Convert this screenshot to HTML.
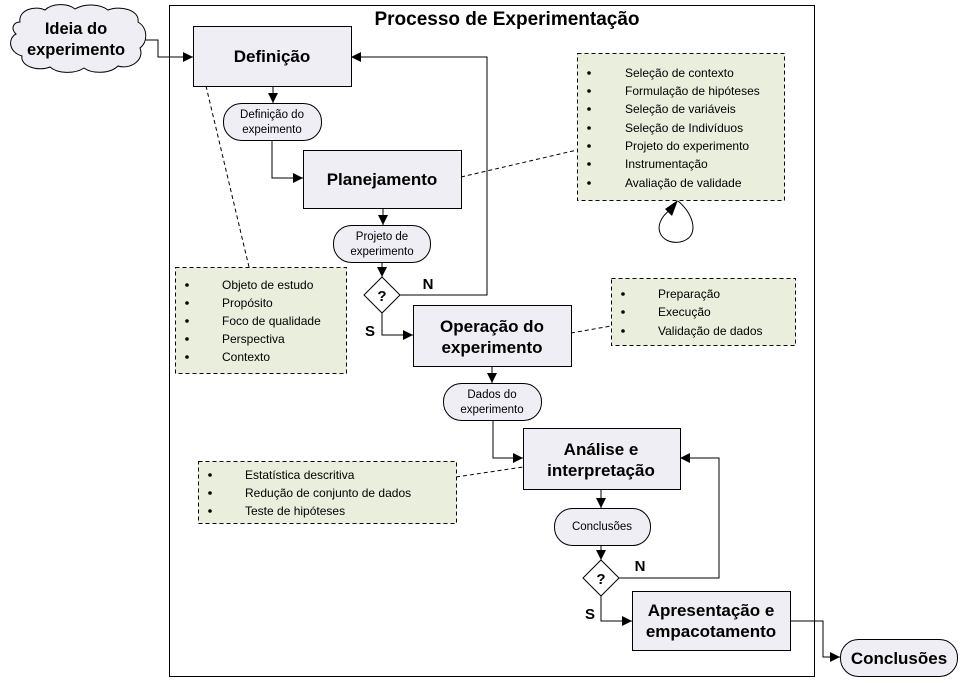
<!DOCTYPE html>
<html><head><meta charset="utf-8"><style>html,body{margin:0;padding:0;background:#fff}svg{display:block}</style></head>
<body>
<svg width="964" height="683" viewBox="0 0 964 683" xmlns="http://www.w3.org/2000/svg" font-family="Liberation Sans, Arial, sans-serif">
<defs>
<marker id="a" viewBox="0 0 10 10" refX="10" refY="5" markerWidth="10" markerHeight="10" markerUnits="userSpaceOnUse" orient="auto"><path d="M0,0L10,5L0,10z" fill="#000"/></marker>
</defs>
<rect x="0" y="0" width="964" height="683" fill="#fff"/>
<rect x="169.5" y="5.5" width="645" height="671" fill="none" stroke="#000" stroke-width="1"/>
<text x="507" y="25" font-size="19" font-weight="bold" text-anchor="middle">Processo de Experimentação</text>

<!-- cloud -->
<path d="M20,22 C18,10 35,5 45,10 C52,3 68,3 75,9 C85,3 100,4 108,10 C120,5 140,10 138,22 C148,28 148,42 140,48 C145,60 130,70 118,66 C110,74 92,74 84,68 C75,74 58,74 50,67 C38,72 20,66 22,56 C8,52 8,38 16,34 C10,28 14,22 20,22 Z" fill="#efeef5" stroke="#000"/>
<text x="76" y="34" font-size="16.5" font-weight="bold" text-anchor="middle">Ideia do</text>
<text x="76" y="55" font-size="16.5" font-weight="bold" text-anchor="middle">experimento</text>

<g fill="none" stroke="#000" stroke-width="1">
<polyline points="145,40 158,40 158,57 193,57" marker-end="url(#a)"/>
<line x1="273" y1="86" x2="273" y2="103" marker-end="url(#a)"/>
<polyline points="272,130 272,178 303,178" marker-end="url(#a)"/>
<line x1="383" y1="208" x2="383" y2="225" marker-end="url(#a)"/>
<line x1="382" y1="262" x2="382" y2="277" marker-end="url(#a)"/>
<polyline points="400,295 487,295 487,57 351,57" marker-end="url(#a)"/>
<polyline points="382,313 382,335 413,335" marker-end="url(#a)"/>
<line x1="492" y1="366" x2="492" y2="383" marker-end="url(#a)"/>
<polyline points="493,420 493,458 523,458" marker-end="url(#a)"/>
<line x1="601" y1="489" x2="601" y2="508" marker-end="url(#a)"/>
<line x1="601" y1="545" x2="601" y2="560" marker-end="url(#a)"/>
<polyline points="619,578 719,578 719,458 680,458" marker-end="url(#a)"/>
<polyline points="601,596 601,621 632,621" marker-end="url(#a)"/>
<polyline points="790,621 823,621 823,657 840,657" marker-end="url(#a)"/>
<path d="M670,210 C650,225 660,245 680,242 C700,238 695,215 678,201" />
</g>
<path d="M678,200 L672,216 L665,209 Z" fill="#000"/>

<g stroke="#000" stroke-dasharray="4,3" fill="none">
<line x1="206" y1="86" x2="249" y2="267"/>
<line x1="461" y1="177" x2="577" y2="150"/>
<line x1="571" y1="333" x2="611" y2="326"/>
<line x1="456" y1="477" x2="523" y2="467"/>
</g>

<g fill="#efeef5" stroke="#000">
<rect x="193.5" y="26.5" width="158" height="60"/>
<rect x="303.5" y="150.5" width="158" height="58"/>
<rect x="413.5" y="305.5" width="158" height="61"/>
<rect x="523.5" y="428.5" width="157" height="61"/>
<rect x="632.5" y="591.5" width="158" height="59"/>
<rect x="223.5" y="103.5" width="98" height="37" rx="18"/>
<rect x="333.5" y="225.5" width="97" height="37" rx="18"/>
<rect x="443.5" y="383.5" width="98" height="37" rx="18"/>
<rect x="554.5" y="508.5" width="96" height="37" rx="18"/>
<rect x="840.5" y="639.5" width="117" height="37" rx="18"/>
</g>
<g fill="#fff" stroke="#000">
<polygon points="382,277 400,295 382,313 364,295"/>
<polygon points="601,560 619,578 601,596 583,578"/>
</g>
<g font-weight="bold" text-anchor="middle" font-size="17">
<text x="272" y="62">Definição</text>
<text x="382" y="185">Planejamento</text>
<text x="492" y="332">Operação do</text>
<text x="492" y="353">experimento</text>
<text x="601" y="455">Análise e</text>
<text x="601" y="476">interpretação</text>
<text x="711" y="616">Apresentação e</text>
<text x="711" y="637">empacotamento</text>
<text x="899" y="664">Conclusões</text>
<text x="382" y="301" font-size="15">?</text>
<text x="601" y="584" font-size="15">?</text>
<text x="428" y="289" font-size="15">N</text>
<text x="370" y="336" font-size="15">S</text>
<text x="640" y="571" font-size="15">N</text>
<text x="590" y="619" font-size="15">S</text>
</g>
<g text-anchor="middle" font-size="11.5">
<text x="272" y="118">Definição do</text>
<text x="272" y="133">expeimento</text>
<text x="382" y="240">Projeto de</text>
<text x="382" y="255">experimento</text>
<text x="492" y="398">Dados do</text>
<text x="492" y="413">experimento</text>
<text x="602" y="530">Conclusões</text>
</g>

<g fill="#e9eedd" stroke="#000" stroke-dasharray="4,3">
<rect x="175.5" y="267.5" width="171" height="106"/>
<rect x="577.5" y="53.5" width="207" height="147"/>
<rect x="611.5" y="278.5" width="184" height="67"/>
<rect x="198.5" y="461.5" width="258" height="62"/>
</g>
<g font-size="12" fill="#000">
<text x="222" y="289">Objeto de estudo</text>
<text x="222" y="307">Propósito</text>
<text x="222" y="325">Foco de qualidade</text>
<text x="222" y="343">Perspectiva</text>
<text x="222" y="361">Contexto</text>
<text x="625" y="77">Seleção de contexto</text>
<text x="625" y="95">Formulação de hipóteses</text>
<text x="625" y="113">Seleção de variáveis</text>
<text x="625" y="132">Seleção de Indivíduos</text>
<text x="625" y="150">Projeto do experimento</text>
<text x="625" y="168">Instrumentação</text>
<text x="625" y="187">Avaliação de validade</text>
<text x="658" y="298">Preparação</text>
<text x="658" y="316">Execução</text>
<text x="658" y="335">Validação de dados</text>
<text x="245" y="479">Estatística descritiva</text>
<text x="245" y="497">Redução de conjunto de dados</text>
<text x="245" y="515">Teste de hipóteses</text>
</g>
<g fill="#000">
<circle cx="187" cy="285" r="1.8"/><circle cx="187" cy="303" r="1.8"/><circle cx="187" cy="321" r="1.8"/><circle cx="187" cy="339" r="1.8"/><circle cx="187" cy="357" r="1.8"/>
<circle cx="589" cy="73" r="1.8"/><circle cx="589" cy="91" r="1.8"/><circle cx="589" cy="109" r="1.8"/><circle cx="589" cy="128" r="1.8"/><circle cx="589" cy="146" r="1.8"/><circle cx="589" cy="164" r="1.8"/><circle cx="589" cy="183" r="1.8"/>
<circle cx="623" cy="294" r="1.8"/><circle cx="623" cy="312" r="1.8"/><circle cx="623" cy="331" r="1.8"/>
<circle cx="210" cy="475" r="1.8"/><circle cx="210" cy="493" r="1.8"/><circle cx="210" cy="511" r="1.8"/>
</g>
</svg>
</body></html>
